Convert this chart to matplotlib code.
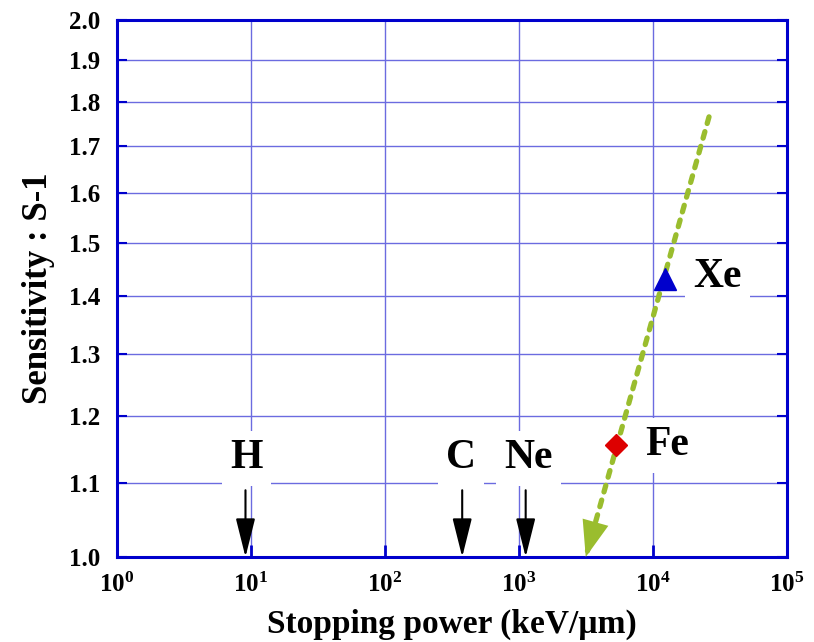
import matplotlib
matplotlib.use("Agg")
import matplotlib.pyplot as plt
from matplotlib.ticker import FixedLocator, FixedFormatter, NullLocator
import numpy as np

plt.rcParams['font.family'] = 'Liberation Serif'
plt.rcParams['font.weight'] = 'bold'
plt.rcParams['mathtext.fontset'] = 'custom'
plt.rcParams['mathtext.rm'] = 'Liberation Serif:bold'
plt.rcParams['mathtext.bf'] = 'Liberation Serif:bold'

# measured ions
ion_names = ['Fe', 'Xe']
ion_let = [5300, 12200]          # keV/um
ion_sens = [1.155, 1.432]

# ions marked only by their stopping power (arrows on the axis)
arrow_ions = ['H', 'C', 'Ne']
arrow_let = [9.1, 377, 1122]
arrow_top = 1.09

# trend arrow, start -> tip
trend_let = [26200, 3150]
trend_sens = [1.765, 1.0]

# label anchors
label_let = {'H': 9.3, 'C': 369, 'Ne': 1170, 'Fe': 12700, 'Xe': 30500}
label_sens = {'H': 1.136, 'C': 1.136, 'Ne': 1.136, 'Fe': 1.155, 'Xe': 1.435}

yticks = [1.0, 1.1, 1.2, 1.3, 1.4, 1.5, 1.6, 1.7, 1.8, 1.9, 2.0]
xticks = [1e0, 1e1, 1e2, 1e3, 1e4, 1e5]

blue = '#0000cc'
grid_blue = '#6b6be0'
green = '#9abd2e'

fig = plt.figure(figsize=(8.14, 6.42), dpi=100)
ax = fig.add_axes([0.1437, 0.1324, 0.8231, 0.8364])
ax.set_xscale('log')
ax.set_yscale('log')
ax.set_xlim(1, 1e5)
ax.set_ylim(1.0, 2.0)

ax.yaxis.set_major_locator(FixedLocator(yticks))
ax.yaxis.set_major_formatter(FixedFormatter([f'{v:.1f}' for v in yticks]))
ax.yaxis.set_minor_locator(NullLocator())
ax.xaxis.set_major_locator(FixedLocator(xticks))
ax.xaxis.set_major_formatter(FixedFormatter([rf'$\mathbf{{10^{{{int(np.log10(v))}}}}}$' for v in xticks]))
ax.xaxis.set_minor_locator(NullLocator())

ax.tick_params(axis='y', direction='in', left=True, right=True, length=7, width=1.5,
               color=blue, labelsize=18, pad=12)
ax.tick_params(axis='x', direction='in', bottom=True, top=False, length=9, width=2,
               color=blue, labelsize=18, pad=11)
for lab in ax.get_xticklabels() + ax.get_yticklabels():
    lab.set_fontweight('bold')
for s in ax.spines.values():
    s.set_color(blue)
    s.set_linewidth(2.2)

ax.grid(True, which='major', color=grid_blue, linewidth=1.0, zorder=0)
ax.set_axisbelow(True)

ax.set_xlabel('Stopping power (keV/\u00b5m)', fontsize=24, fontweight='bold', labelpad=9)
ax.set_ylabel('Sensitivity : S-1', fontsize=25, fontweight='bold', labelpad=10)

# trend: dotted shaft plus solid head
lx = np.log10(trend_let)
ly = np.log10(trend_sens)
ax.plot(trend_let, trend_sens, color=green, lw=3.8, linestyle=(0, (1.3, 1.6)),
        dash_capstyle='round', zorder=4)
t = 0.07
head_from = (10 ** (lx[1] + t * (lx[0] - lx[1])), 10 ** (ly[1] + t * (ly[0] - ly[1])))
ax.annotate('', xy=(trend_let[1], trend_sens[1]), xytext=head_from,
            arrowprops=dict(arrowstyle='-|>,head_length=1.3,head_width=0.48',
                            mutation_scale=20, color=green, lw=0,
                            shrinkA=0, shrinkB=0), zorder=5)

# stopping power arrows
for name, x in zip(arrow_ions, arrow_let):
    ax.annotate('', xy=(x, 1.0), xytext=(x, arrow_top),
                arrowprops=dict(arrowstyle='-|>,head_length=1.2,head_width=0.3',
                                mutation_scale=20, color='black', lw=1.5,
                                shrinkA=0, shrinkB=0), zorder=5)

ax.plot(ion_let[0], ion_sens[0], marker='D', color='#dd0000', markersize=11.5,
        linestyle='none', zorder=6, clip_on=False)
ax.plot(ion_let[1], ion_sens[1], marker='^', color=blue, markersize=16,
        linestyle='none', zorder=6, clip_on=False)

for name in ['H', 'C', 'Ne', 'Fe', 'Xe']:
    ax.text(label_let[name], label_sens[name], name, fontsize=30, fontweight='bold',
            ha='center', va='center', zorder=3,
            bbox=dict(boxstyle='square,pad=0.2', fc='white', ec='none'))

fig.savefig('out.png', dpi=100)
